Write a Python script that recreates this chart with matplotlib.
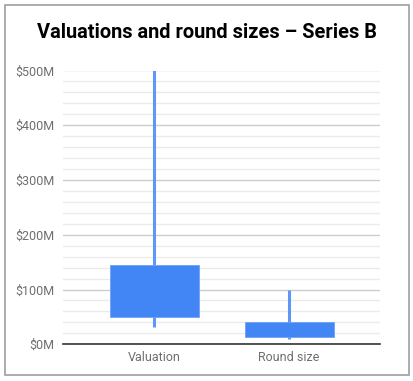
import matplotlib.pyplot as plt
from matplotlib.patches import Rectangle
from matplotlib.ticker import MultipleLocator

# Candlestick data (in $M)
categories = ['Valuation', 'Round size']
low = [31, 10]
box_low = [49, 14]
box_high = [144, 41]
high = [500, 100]
yticks = [0, 100, 200, 300, 400, 500]
ytick_labels = ['\\$0M', '\\$100M', '\\$200M', '\\$300M', '\\$400M', '\\$500M']

plt.rcParams['font.family'] = ['Roboto', 'DejaVu Sans']

W, H = 413, 381
fig = plt.figure(figsize=(W / 100, H / 100), dpi=100)

# outer border
fig.patches.append(Rectangle((4.5 / W, 1 - 375 / H), 404 / W, 370.5 / H,
                             transform=fig.transFigure, fill=False,
                             edgecolor='#9e9e9e', linewidth=1.2))

ax = fig.add_axes([63 / W, 1 - 344.3 / H, (380 - 63) / W, (344.3 - 70.5) / H])

x = list(range(len(categories)))
ax.vlines(x, low, high, color='#5e97f6', linewidth=2.2, zorder=2)
heights = [h - l for h, l in zip(box_high, box_low)]
ax.bar(x, heights, bottom=box_low, width=0.66, color='#4285f4',
       edgecolor='#6fa1f7', linewidth=0.6, zorder=3)

ax.set_ylim(0, 500)
ax.set_xlim(-0.678, 1.674)
ax.set_yticks(yticks)
ax.set_yticklabels(ytick_labels)
ax.yaxis.set_minor_locator(MultipleLocator(20))
ax.set_xticks(x)
ax.set_xticklabels(categories)

ax.grid(axis='y', which='major', color='#cccccc', linewidth=1, zorder=0)
ax.grid(axis='y', which='minor', color='#ebebeb', linewidth=1, zorder=0)
ax.set_axisbelow(True)
ax.tick_params(axis='both', which='both', length=0, labelsize=9, colors='#6f6f6f')
ax.tick_params(axis='y', pad=6)
ax.tick_params(axis='x', pad=5)

for s in ['top', 'right', 'left']:
    ax.spines[s].set_visible(False)
ax.spines['bottom'].set_color('#333333')
ax.spines['bottom'].set_linewidth(1.2)
ax.spines['bottom'].set_zorder(4)

fig.text(0.5, 1 - 32 / H, 'Valuations and round sizes \u2013 Series B',
         ha='center', va='center', fontsize=14.4, fontweight='bold', color='#000000')

fig.savefig('out.png', dpi=100)
